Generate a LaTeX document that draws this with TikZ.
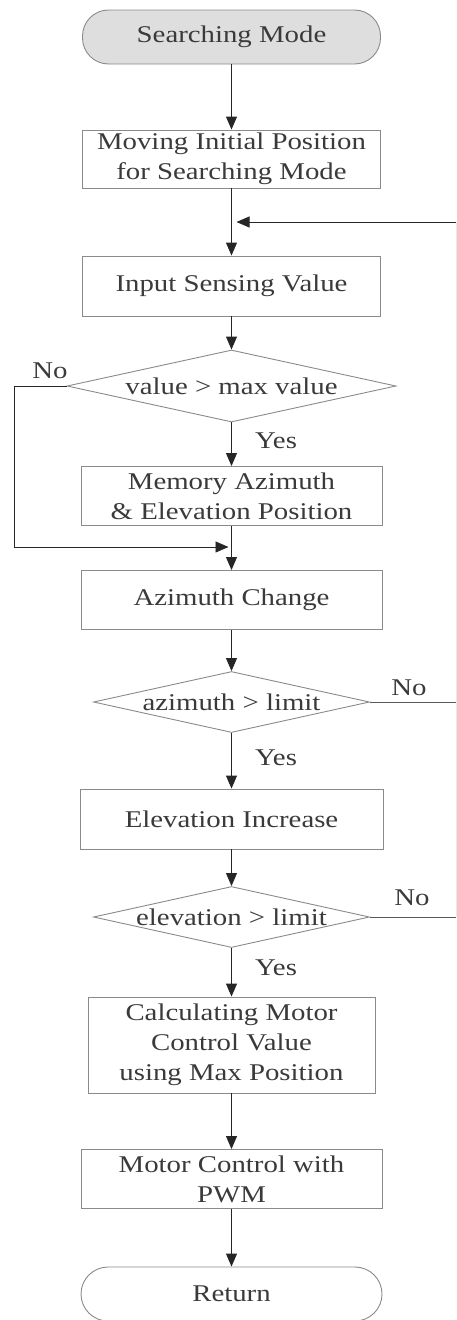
\documentclass[tikz,border=0pt]{standalone}
\usepackage{fontspec}
\setmainfont{Liberation Serif}[FakeStretch=1.2]
\usetikzlibrary{shapes.geometric,arrows.meta}
\definecolor{txt}{HTML}{3A3A3A}
\definecolor{edge}{HTML}{8A8A8A}
\definecolor{startfill}{HTML}{DEDEDE}
\begin{document}
\begin{tikzpicture}[x=1pt,y=-1pt,
  every node/.style={font=\fontsize{24}{30}\selectfont, text=txt},
  box/.style={draw=edge, line width=0.9pt, minimum width=301pt, minimum height=59pt, inner sep=0pt, align=center},
  term/.style={box, rounded corners=26pt, minimum height=54pt},
  dec/.style={draw=edge, line width=0.9pt, diamond, aspect=4.5, inner sep=0pt},
  arr/.style={draw=black!85, line width=0.9pt, -{Triangle[length=13pt,width=11pt]}},
  ln/.style={draw=black!65, line width=0.9pt},
  faint/.style={draw=black!9, line width=0.8pt},
  lbl/.style={font=\fontsize{24}{26}\selectfont, text=txt}]
\useasboundingbox (0,0) rectangle (457,1320);

\node[term, fill=startfill, minimum width=298pt] (start) at (231.5,37) {Searching Mode};
\node[box, minimum width=298pt, minimum height=58pt] (b1) at (231.5,159) {Moving Initial Position\\for Searching Mode};
\node[box, minimum width=298pt, minimum height=60pt] (b2) at (231.5,286) {Input Sensing Value};
\node[dec, minimum width=329pt, minimum height=72pt] (d1) at (231.5,386) {\makebox[0pt]{value > max value}};
\node[box] (b3) at (231.5,496) {Memory Azimuth\\\& Elevation Position};
\node[box] (b4) at (231.5,600) {Azimuth Change};
\node[dec, minimum width=276pt, minimum height=61pt] (d2) at (231.5,702) {\makebox[0pt]{azimuth > limit}};
\node[box, minimum width=303pt, minimum height=60pt] (b5) at (231.5,819) {Elevation Increase};
\node[dec, minimum width=276pt, minimum height=61pt] (d3) at (231.5,917) {\makebox[0pt]{elevation > limit}};
\node[box, minimum width=287pt, minimum height=96pt] (b6) at (231.5,1045) {Calculating Motor\\Control Value\\using Max Position};
\node[box] (b7) at (231.5,1179) {Motor Control with\\PWM};
\node[term, minimum height=54pt, rounded corners=27pt] (ret) at (231.5,1294) {Return};

% labels
\node[lbl] (no1) at (50,371) {No};
\node[lbl] (yes1) at (276,441) {Yes};
\node[lbl] (no2) at (409,688) {No};
\node[lbl] (yes2) at (276,758) {Yes};
\node[lbl] (no3) at (412,898) {No};
\node[lbl] (yes3) at (276,968) {Yes};

% helper coordinates
\coordinate (m0) at (231.5,222);
\coordinate (m1) at (231.5,547);
\coordinate (r0) at (456,222);
\coordinate (r2) at (456,702);
\coordinate (r3) at (456,917);
\coordinate (l1) at (14,386);

% main flow
\draw[arr] (start.south) -- (b1.north);
\draw[arr] (b1.south) -- (b2.north);
\draw[arr] (b2.south) -- (d1.north);
\draw[arr] (d1.south) -- (b3.north);
\draw[arr] (b3.south) -- (b4.north);
\draw[arr] (b4.south) -- (d2.north);
\draw[arr] (d2.south) -- (b5.north);
\draw[arr] (b5.south) -- (d3.north);
\draw[arr] (d3.south) -- (b6.north);
\draw[arr] (b6.south) -- (b7.north);
\draw[arr] (b7.south) -- (ret.north);

% No branch of first decision
\draw[arr, shorten >=3pt] (d1.west) -- (l1) |- (m1);

% loop back
\draw[ln] (d2.east) -- (r2);
\draw[ln] (d3.east) -- (r3);
\draw[faint] (r3) -- (r0);
\draw[arr, shorten >=5pt] (r0) -- (m0);
\end{tikzpicture}
\end{document}
